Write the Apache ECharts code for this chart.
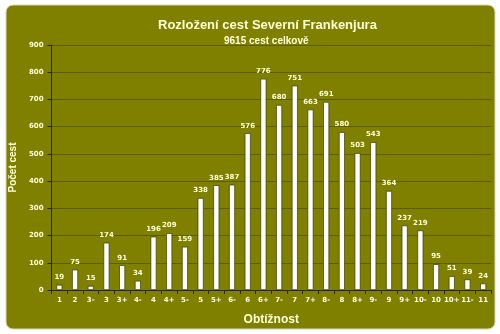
<!DOCTYPE html>
<html>
<head>
<meta charset="utf-8">
<script src="https://cdn.jsdelivr.net/npm/echarts@6/dist/echarts.min.js"></script>
<style>
html,body{margin:0;padding:0;background:#fff;}
#chart{width:500px;height:334px;}
</style>
</head>
<body>
<div id="chart"></div>
<script>
// Climbing grades and number of routes per grade
const grades = ['1','2','3-','3','3+','4-','4','4+','5-','5','5+','6-','6','6+','7-','7','7+','8-','8','8+','9-','9','9+','10-','10','10+','11-','11'];
const routeCounts = [19,75,15,174,91,34,196,209,159,338,385,387,576,776,680,751,663,691,580,503,543,364,237,219,95,51,39,24];
const yTicks = [0,100,200,300,400,500,600,700,800,900];

const textColor = '#ffffd8';
const font = 'DejaVu Sans';
const titleFont = 'Liberation Sans';

const chart = echarts.init(document.getElementById('chart'));
chart.setOption({
  backgroundColor: '#ffffff',
  animation: false,
  graphic: [{
    type: 'rect',
    z: -10,
    shape: { x: 6, y: 5, width: 489, height: 324, r: 7 },
    style: { fill: '#808000', stroke: '#d8d8b0', lineWidth: 1 }
  }],
  // headings are centred over the plot area rather than the page
  title: [{
    text: 'Rozložení cest Severní Frankenjura',
    left: 153,
    top: 14,
    textStyle: { color: textColor, fontFamily: titleFont, fontSize: 13, fontWeight: 'bold' }
  }, {
    text: '9615 cest celkově',
    left: 219,
    top: 31,
    textStyle: { color: textColor, fontFamily: titleFont, fontSize: 10, fontWeight: 'bold' }
  }],
  grid: { left: 44, right: 9, top: 45, bottom: 44, containLabel: false },
  xAxis: {
    type: 'category',
    data: grades,
    name: 'Obtížnost',
    nameLocation: 'middle',
    nameGap: 24,
    nameTextStyle: { color: textColor, fontFamily: titleFont, fontSize: 12, fontWeight: 'bold' },
    axisLine: { lineStyle: { color: '#2a2a00', width: 1 } },
    axisTick: { show: true, alignWithLabel: false, length: 4, lineStyle: { color: '#2a2a00' } },
    axisLabel: { color: textColor, fontFamily: font, fontSize: 7, fontWeight: 'bold', margin: 7, interval: 0 }
  },
  yAxis: {
    type: 'value',
    min: yTicks[0],
    max: yTicks[yTicks.length - 1],
    interval: 100,
    name: 'Počet cest',
    nameLocation: 'middle',
    nameGap: 24,
    nameRotate: 90,
    nameTextStyle: { color: textColor, fontFamily: titleFont, fontSize: 10, fontWeight: 'bold' },
    axisLine: { show: true, lineStyle: { color: '#2a2a00', width: 1 } },
    axisTick: { show: true, length: 4, lineStyle: { color: '#2a2a00' } },
    axisLabel: { color: textColor, fontFamily: font, fontSize: 7, fontWeight: 'bold', margin: 8 },
    splitLine: { lineStyle: { color: '#3a3a00', type: [1, 1], width: 1 } }
  },
  series: [{
    type: 'bar',
    data: routeCounts,
    barWidth: 6,
    itemStyle: { color: '#ffffff', borderColor: '#3a3a00', borderWidth: 0.7 },
    label: {
      show: true,
      position: 'top',
      distance: 4,
      color: textColor,
      fontFamily: font,
      fontSize: 7,
      fontWeight: 'bold'
    }
  }]
});
</script>
</body>
</html>
